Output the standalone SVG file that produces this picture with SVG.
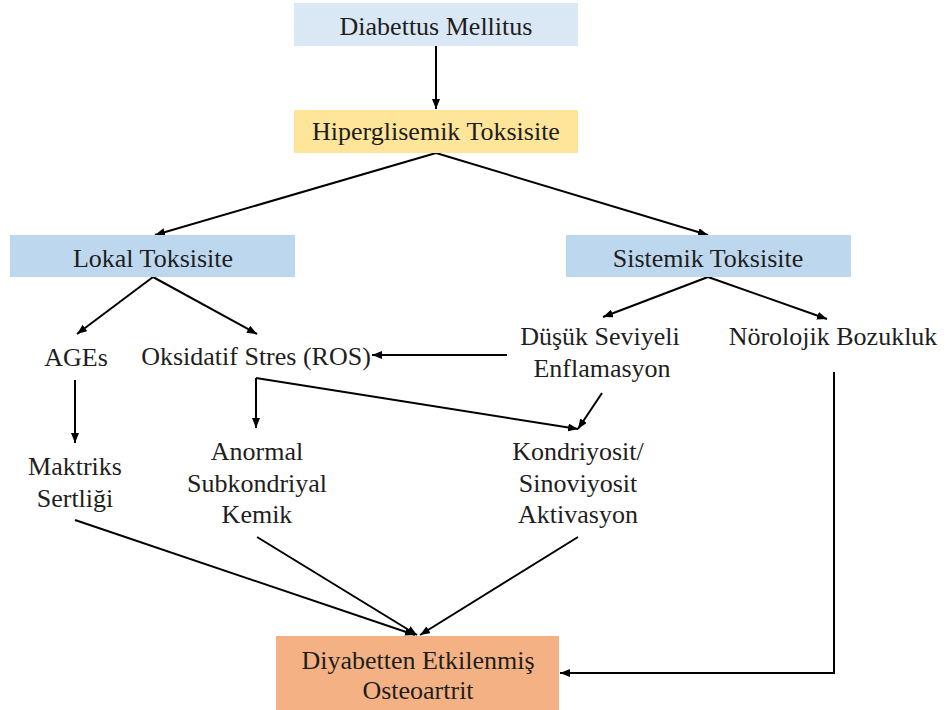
<svg xmlns="http://www.w3.org/2000/svg" width="949" height="710" viewBox="0 0 949 710">
<style>
text{font-family:"Liberation Serif","Times New Roman",serif;font-size:26px;fill:#1e1e1e;text-anchor:middle}
.c{fill:none;stroke:#000;stroke-width:2}
.a{marker-end:url(#ah)}
</style>
<defs>
<marker id="ah" viewBox="0 0 10 8" refX="10" refY="4" markerWidth="10" markerHeight="8" markerUnits="userSpaceOnUse" orient="auto">
<path d="M0,0L10,4L0,8z" fill="#000"/>
</marker>
</defs>
<rect width="949" height="710" fill="#fff"/>
<g id="connectors">
<line class="c a" x1="436" y1="46" x2="436" y2="109"/>
<line class="c a" x1="436" y1="153" x2="155" y2="235"/>
<line class="c a" x1="436" y1="153" x2="708" y2="235"/>
<line class="c a" x1="153" y1="277" x2="77" y2="334"/>
<line class="c a" x1="153" y1="277" x2="257" y2="334"/>
<line class="c a" x1="708" y1="277" x2="603" y2="317"/>
<line class="c a" x1="708" y1="277" x2="827" y2="319"/>
<line class="c a" x1="507" y1="355" x2="372" y2="355"/>
<line class="c a" x1="75" y1="380" x2="75" y2="443"/>
<polyline class="c a" points="256,378 256,428"/>
<line class="c a" x1="256" y1="378" x2="578" y2="429"/>
<line class="c a" x1="602" y1="393" x2="578" y2="429"/>
<polyline class="c a" points="834,372 834,673 560,673"/>
<line class="c a" x1="75" y1="520" x2="415" y2="635"/>
<line class="c a" x1="257" y1="537" x2="417" y2="635"/>
<line class="c a" x1="578" y1="537" x2="420" y2="635"/>
</g>
<g id="n-dm"><rect x="294" y="3" width="284" height="43" fill="#dae7f4"/><text x="436" y="35">Diabettus Mellitus</text></g>
<g id="n-ht"><rect x="294" y="110" width="284" height="43" fill="#fee599"/><text x="436" y="140">Hiperglisemik  Toksisite</text></g>
<g id="n-lokal"><rect x="10" y="235" width="285" height="42" fill="#bdd7ee"/><text x="153" y="267">Lokal Toksisite</text></g>
<g id="n-sistemik"><rect x="566" y="235" width="285" height="42" fill="#bdd7ee"/><text x="708" y="267">Sistemik  Toksisite</text></g>
<g id="n-ages"><text x="76" y="366">AGEs</text></g>
<g id="n-oks"><text x="256" y="365">Oksidatif Stres (ROS)</text></g>
<g id="n-dusuk"><text x="600" y="345">Düşük Seviyeli</text><text x="602" y="377">Enflamasyon</text></g>
<g id="n-norolojik"><text x="833" y="345">Nörolojik Bozukluk</text></g>
<g id="n-maktriks"><text x="75" y="475">Maktriks</text><text x="75" y="507">Sertliği</text></g>
<g id="n-anormal"><text x="257" y="460">Anormal</text><text x="257" y="492">Subkondriyal</text><text x="257" y="523">Kemik</text></g>
<g id="n-kondri"><text x="578" y="460">Kondriyosit/</text><text x="578" y="492">Sinoviyosit</text><text x="578" y="523">Aktivasyon</text></g>
<g id="n-oa"><rect x="276" y="636" width="283" height="74" fill="#f4b183"/><text x="418" y="669">Diyabetten Etkilenmiş</text><text x="418" y="699">Osteoartrit</text></g>
</svg>
